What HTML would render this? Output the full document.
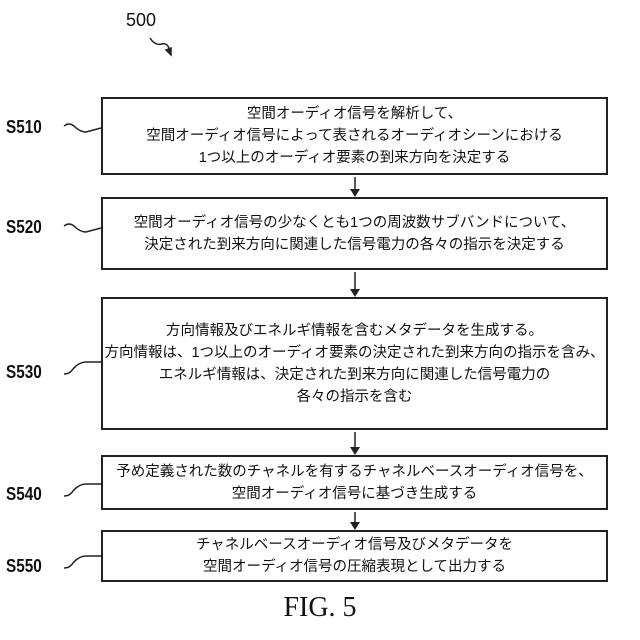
<!DOCTYPE html>
<html><head><meta charset="utf-8"><style>
body{margin:0;width:640px;height:640px;background:#fff;position:relative;overflow:hidden;font-family:"Liberation Sans","Noto Sans CJK JP",sans-serif;color:#111}
.box{position:absolute;left:101px;width:503px;border:2px solid #222;display:flex;align-items:center;justify-content:center;text-align:center;font-size:14.5px;line-height:22px}
.lbl{position:absolute;left:6px;font-size:18px;font-weight:bold;transform:scaleX(0.85);transform-origin:left}
.fig{position:absolute;left:0;width:640px;text-align:center;top:592px;font-family:"Liberation Serif",serif;font-size:28px}
</style></head><body>
<div style="position:absolute;left:126px;top:10px;font-size:18px">500</div>
<svg width="640" height="640" style="position:absolute;left:0;top:0" fill="none" stroke="#222" stroke-width="1.5">
<path d="M150 38 q5 8 12 6 q6 -2 8 8"/><path d="M166 50 l5 5 l0 -7z" fill="#222"/>
<path d="M64 126 q5 -4 10 0 q6 6 12 6 l15 -4"/>
<path d="M64 226 q5 -4 10 0 q6 6 12 6 l15 -4"/>
<path d="M64 374 q6 0 9 -5 q6 -7 13 -7 l15 0"/>
<path d="M64 496 q6 0 9 -5 q6 -7 13 -7 l15 0"/>
<path d="M64 568 q6 0 9 -5 q6 -7 13 -7 l15 0"/>
<g stroke-width="1.5"><line x1="355" y1="177" x2="355" y2="190"/><line x1="355" y1="272" x2="355" y2="290"/><line x1="355" y1="432" x2="355" y2="448"/><line x1="355" y1="512" x2="355" y2="523"/></g>
<g fill="#222" stroke="none"><path d="M350 189 h10 l-5 8z"/><path d="M350 289 h10 l-5 8z"/><path d="M350 447 h10 l-5 8z"/><path d="M350 522 h10 l-5 8z"/></g>
</svg>
<div class="lbl" style="top:117px">S510</div>
<div class="lbl" style="top:217px">S520</div>
<div class="lbl" style="top:362px">S530</div>
<div class="lbl" style="top:484px">S540</div>
<div class="lbl" style="top:556px">S550</div>
<div class="box" style="top:97px;height:74px">空間オーディオ信号を解析して、<br>空間オーディオ信号によって表されるオーディオシーンにおける<br>1つ以上のオーディオ要素の到来方向を決定する</div>
<div class="box" style="top:197px;height:69px">空間オーディオ信号の少なくとも1つの周波数サブバンドについて、<br>決定された到来方向に関連した信号電力の各々の指示を決定する</div>
<div class="box" style="top:297px;height:129px">方向情報及びエネルギ情報を含むメタデータを生成する。<br>方向情報は、1つ以上のオーディオ要素の決定された到来方向の指示を含み、<br>エネルギ情報は、決定された到来方向に関連した信号電力の<br>各々の指示を含む</div>
<div class="box" style="top:455px;height:51px">予め定義された数のチャネルを有するチャネルベースオーディオ信号を、<br>空間オーディオ信号に基づき生成する</div>
<div class="box" style="top:530px;height:48px">チャネルベースオーディオ信号及びメタデータを<br>空間オーディオ信号の圧縮表現として出力する</div>
<div class="fig">FIG. 5</div>
</body></html>
